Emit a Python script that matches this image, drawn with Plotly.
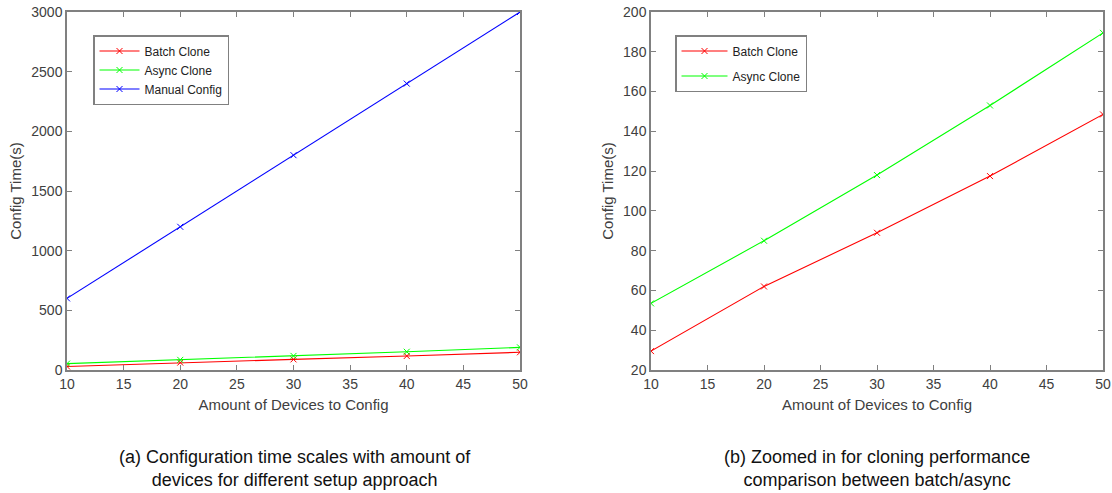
import plotly.graph_objects as go

# Number of devices configured
devices = [10, 20, 30, 40, 50]

# Configuration time in seconds for each approach
batch_clone = [29.5, 62, 89, 117.5, 148.5]
async_clone = [53.5, 85, 118, 153, 189.5]
manual_config = [600, 1200, 1800, 2400, 3000]

x_ticks = [10, 15, 20, 25, 30, 35, 40, 45, 50]
left_y_ticks = [0, 500, 1000, 1500, 2000, 2500, 3000]
right_y_ticks = [20, 40, 60, 80, 100, 120, 140, 160, 180, 200]

captions = [
    "(a) Configuration time scales with amount of<br>devices for different setup approach",
    "(b) Zoomed in for cloning performance<br>comparison between batch/async",
]

FONT = "Liberation Sans, Arial, sans-serif"
AXIS_GRAY = "#808080"
TEXT_GRAY = "#404040"

fig = go.Figure()


def add_series(x, y, name, color, xa, ya, legend, group):
    fig.add_trace(go.Scatter(
        x=x, y=y, name=name, mode="lines+markers",
        line=dict(color=color, width=1.1),
        marker=dict(symbol="x-thin", size=6, line=dict(color=color, width=1)),
        xaxis=xa, yaxis=ya, legend=legend, legendgroup=group,
    ))


add_series(devices, batch_clone, "Batch Clone", "#ff0000", "x", "y", "legend", "a1")
add_series(devices, async_clone, "Async Clone", "#00ff00", "x", "y", "legend", "a1")
add_series(devices, manual_config, "Manual Config", "#0000ff", "x", "y", "legend", "a1")
add_series(devices, batch_clone, "Batch Clone", "#ff0000", "x2", "y2", "legend2", "b1")
add_series(devices, async_clone, "Async Clone", "#00ff00", "x2", "y2", "legend2", "b2")

W, H = 1112, 493


def xd(px0, px1):
    return [px0 / W, px1 / W]


def yd(py_top, py_bottom):
    return [(H - py_bottom) / H, (H - py_top) / H]


axis_common = dict(
    showline=True, linecolor=AXIS_GRAY, linewidth=1.5, mirror="ticks",
    ticks="inside", ticklen=5, tickcolor=AXIS_GRAY, tickwidth=1,
    showgrid=False, zeroline=False, automargin=False,
    tickfont=dict(family=FONT, size=14, color=TEXT_GRAY),
    title_font=dict(family=FONT, size=15, color=TEXT_GRAY),
)

legend_common = dict(
    xanchor="left", yanchor="top",
    bgcolor="white", bordercolor=AXIS_GRAY, borderwidth=1.5,
    font=dict(family=FONT, size=12, color="#222222"),
)

fig.update_layout(
    width=W, height=H,
    margin=dict(l=0, r=0, t=0, b=0, autoexpand=False),
    paper_bgcolor="white", plot_bgcolor="white",
    font=dict(family=FONT, color=TEXT_GRAY),
    xaxis=dict(domain=xd(67, 520), range=[10, 50], tickvals=x_ticks,
               title=dict(text="Amount of Devices to Config", standoff=9),
               anchor="y", **axis_common),
    yaxis=dict(domain=yd(12, 370), range=[0, 3000], tickvals=left_y_ticks,
               title=dict(text="Config Time(s)", standoff=6),
               anchor="x", **axis_common),
    xaxis2=dict(domain=xd(651, 1103), range=[10, 50], tickvals=x_ticks,
                title=dict(text="Amount of Devices to Config", standoff=9),
                anchor="y2", **axis_common),
    yaxis2=dict(domain=yd(12, 370), range=[20, 200], tickvals=right_y_ticks,
                title=dict(text="Config Time(s)", standoff=6),
                anchor="x2", **axis_common),
    legend=dict(x=93 / W, y=(H - 35) / H, tracegroupgap=0, itemwidth=40,
                **legend_common),
    legend2=dict(x=675 / W, y=(H - 35) / H, tracegroupgap=6, itemwidth=46,
                 **legend_common),
)

for cx, text in zip([295, 877], captions):
    fig.add_annotation(
        x=cx / W, y=(H - 468) / H, xref="paper", yref="paper",
        text=text, showarrow=False, align="center",
        xanchor="center", yanchor="middle",
        font=dict(family=FONT, size=18, color="#111111"),
    )

fig.write_html("out.html")
